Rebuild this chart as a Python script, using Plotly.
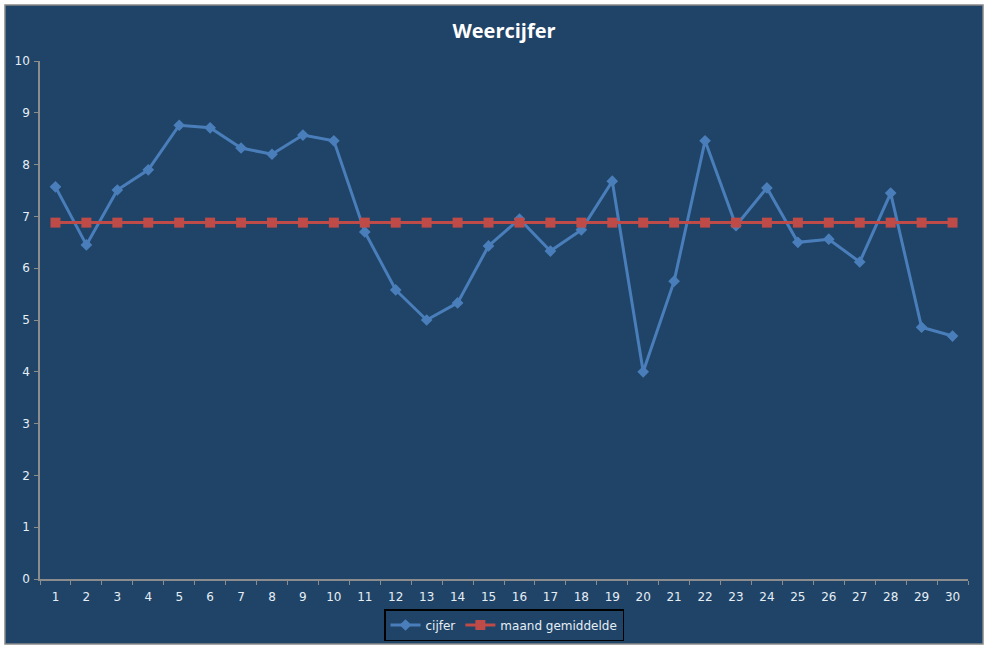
import plotly.graph_objects as go

# ── data ──────────────────────────────────────────────
dagen = list(range(1, 31))
cijfer = [7.57, 6.45, 7.51, 7.90, 8.76, 8.71, 8.32, 8.20, 8.57, 8.46,
          6.70, 5.58, 5.00, 5.33, 6.43, 6.95, 6.33, 6.74, 7.68, 4.00,
          5.75, 8.46, 6.82, 7.55, 6.50, 6.56, 6.12, 7.45, 4.86, 4.69]
gemiddelde = [6.88, 6.88, 6.88, 6.88, 6.88, 6.88, 6.88, 6.88, 6.88, 6.88,
              6.88, 6.88, 6.88, 6.88, 6.88, 6.88, 6.88, 6.88, 6.88, 6.88,
              6.88, 6.88, 6.88, 6.88, 6.88, 6.88, 6.88, 6.88, 6.88, 6.88]

BG = '#1F4467'
BLUE = '#4A7EBB'
RED = '#BE4B48'
TXT = '#E6EEF6'
AXIS = '#8C8C8C'

fig = go.Figure()

fig.add_trace(go.Scatter(
    x=dagen, y=cijfer, name='cijfer', mode='lines+markers',
    line=dict(color=BLUE, width=3),
    marker=dict(symbol='diamond', size=9, color=BLUE)
))
fig.add_trace(go.Scatter(
    x=dagen, y=gemiddelde, name='maand gemiddelde', mode='lines+markers',
    line=dict(color=RED, width=3),
    marker=dict(symbol='square', size=10, color=RED)
))

# plot area in pixels: x 40..968, y 61..579
W, H = 987, 648
L, R, T, B = 40, 19, 61, 69
pw, ph = W - L - R, H - T - B


def px_x(v):
    return (v - L) / pw


def px_y(v):
    return (H - B - v) / ph


# outer chart frame
fig.add_shape(type='rect', xref='paper', yref='paper', layer='below',
              x0=px_x(5), x1=px_x(983), y0=px_y(644), y1=px_y(5),
              fillcolor=BG, line=dict(color='#888888', width=1.5))

fig.update_layout(
    width=W, height=H,
    margin=dict(l=L, r=R, t=T, b=B, autoexpand=False),
    paper_bgcolor='white',
    plot_bgcolor=BG,
    font=dict(family='DejaVu Sans', size=12, color=TXT),
    title=dict(text='<b>Weercijfer</b>', x=0.5, xref='paper', xanchor='center',
               y=1 - 31 / H, yanchor='middle',
               font=dict(family='Open Sans', size=20, color='white')),
    xaxis=dict(
        range=[0.5, 30.5], tickmode='array', tickvals=dagen,
        ticks='', showgrid=False, zeroline=False,
        showline=True, linecolor=AXIS, linewidth=1.5,
        tickfont=dict(color=TXT, size=12), ticklabelstandoff=6,
        minor=dict(ticks='outside', tick0=0.5, dtick=1, ticklen=4,
                   tickcolor=AXIS, showgrid=False)
    ),
    yaxis=dict(
        range=[0, 10], dtick=1, ticks='outside', ticklen=4, tickcolor=AXIS,
        showgrid=False, zeroline=False,
        showline=True, linecolor=AXIS, linewidth=1.5,
        tickfont=dict(color=TXT, size=12), ticklabelstandoff=2
    ),
    legend=dict(
        orientation='h', x=0.5, xanchor='center',
        y=px_y(609), yanchor='top', itemwidth=30,
        bgcolor=BG, bordercolor='black', borderwidth=1.5,
        font=dict(color=TXT, size=12), tracegroupgap=0
    ),
    showlegend=True
)

# page has a default 8px body margin; remove it so the chart sits at 0,0
fig.write_html("out.html", config={'displayModeBar': False},
               post_script="document.body.style.margin='0';")
